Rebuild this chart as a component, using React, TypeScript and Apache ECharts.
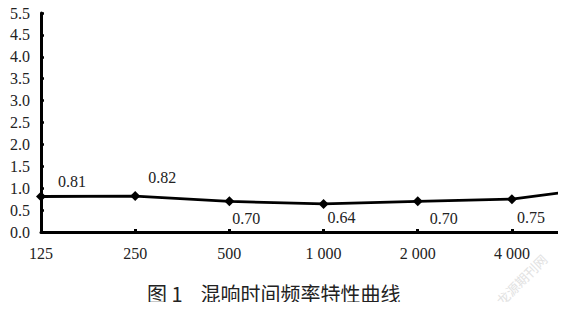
import React, { useEffect, useRef } from "react";
import * as echarts from "echarts";

// Octave-band centre frequencies (Hz)
const categories = ["125", "250", "500", "1 000", "2 000", "4 000"];
// Reverberation time (s) at each band
const rt60 = [0.81, 0.82, 0.7, 0.64, 0.7, 0.75];
// Curve continues past the last band to the axis end
const tailValue = 0.89;
// Printed y tick labels (0.0 … 5.0 step 0.5)
const yTickLabels = ["0.0", "0.5", "1.0", "1.5", "2.0", "2.5", "3.0", "3.5", "4.0", "4.5", "5.5"];
// Where each value label sits relative to its marker
const labelOffsets: [number, number][] = [
  [31, -15],
  [27, -19],
  [17, 17],
  [18, 14],
  [26, 17],
  [19, 18],
];

const serif = "Liberation Serif";

export default function App() {
  const ref = useRef<HTMLDivElement>(null);

  useEffect(() => {
    if (!ref.current) return;
    const chart = echarts.init(ref.current, null, { renderer: "svg" });

    const points: any[] = rt60.map((v, i) => ({
      value: [i, v],
      label: {
        show: true,
        position: "inside",
        offset: labelOffsets[i],
        formatter: v.toFixed(2),
      },
    }));
    points.push({
      value: [categories.length - 0.5, tailValue],
      symbol: "none",
      label: { show: false },
    });

    const bandTicks = categories.map((_, i) => i);

    chart.setOption({
      animation: false,
      textStyle: { fontFamily: serif },
      grid: { left: 41, right: 7, top: 13, bottom: 78, containLabel: false },
      xAxis: {
        type: "value",
        min: 0,
        max: categories.length - 0.5,
        interval: 1,
        splitLine: { show: false },
        axisLine: { show: true, lineStyle: { color: "#000", width: 3 } },
        axisTick: {
          show: true,
          inside: true,
          length: 3,
          lineStyle: { color: "#000", width: 3 },
          customValues: bandTicks,
        },
        axisLabel: {
          customValues: bandTicks,
          formatter: (v: number) => categories[Math.round(v)] ?? "",
          color: "#222",
          fontFamily: serif,
          fontSize: 16,
          margin: 13,
        },
      },
      yAxis: {
        type: "value",
        min: 0,
        max: 5,
        interval: 0.5,
        splitLine: { show: false },
        axisLine: { show: true, lineStyle: { color: "#000", width: 3 } },
        axisTick: {
          show: true,
          inside: true,
          length: 3,
          lineStyle: { color: "#000", width: 2.5 },
        },
        axisLabel: {
          formatter: (v: number) => yTickLabels[Math.round(v / 0.5)] ?? "",
          color: "#222",
          fontFamily: serif,
          fontSize: 16,
          margin: 11,
        },
      },
      series: [
        {
          type: "line",
          data: points,
          symbol: "diamond",
          symbolSize: 10,
          itemStyle: { color: "#000" },
          lineStyle: { color: "#000", width: 2.8 },
          label: {
            color: "#222",
            fontFamily: serif,
            fontSize: 16,
          },
        },
      ],
      graphic: [
        {
          type: "text",
          left: 147,
          top: 283,
          style: {
            text: "图 1    混响时间频率特性曲线",
            fontFamily: "Noto Sans CJK SC",
            fontSize: 20,
            fill: "#222",
          },
        },
        {
          type: "text",
          x: 494,
          y: 298,
          rotation: Math.PI / 4,
          style: {
            text: "龙源期刊网",
            fontFamily: "Noto Sans CJK SC",
            fontSize: 13,
            fill: "#e2e2e2",
          },
        },
      ],
    });

    return () => chart.dispose();
  }, []);

  return <div ref={ref} style={{ width: 566, height: 310, margin: -8 }} />;
}
